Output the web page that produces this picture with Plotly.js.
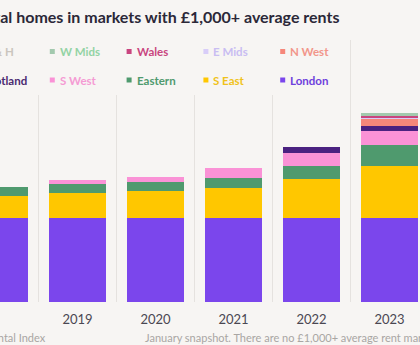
<!DOCTYPE html>
<html>
<head>
<meta charset="utf-8">
<script src="https://cdn.plot.ly/plotly-3.0.1.min.js"></script>
<style>
  html, body { margin: 0; padding: 0; background: #f7f5f3; overflow: hidden; }
  #chart { width: 420px; height: 345px; }
</style>
</head>
<body>
<div id="chart"></div>
<script>
// ---- data (units = relative bar heights) ----
const years = ['2018', '2019', '2020', '2021', '2022', '2023'];

// stacking order, bottom to top
const seriesNames = ['London', 'S East', 'Eastern', 'S West', 'Scotland', 'N West', 'E Mids', 'Wales', 'W Mids', 'Y & H'];

const london   = [83.7, 83.7, 83.7, 83.7, 83.7, 83.7];
const sEast    = [22.6, 25.0, 27.6, 30.6, 39.3, 52.3];
const eastern  = [8.4, 9.0, 9.0, 9.7, 13.3, 21.0];
const sWest    = [0, 4.0, 4.4, 9.7, 12.4, 13.8];
const scotland = [0, 0, 0, 0, 6.0, 5.7];
const nWest    = [0, 0, 0, 0, 0, 7.0];
const eMids    = [0, 0, 0, 0, 0, 0.5];
const wales    = [0, 0, 0, 0, 0, 2.5];
const wMids    = [0, 0, 0, 0, 0, 2.8];
const yAndH    = [0, 0, 0, 0, 0, 0];

const seriesValues = [london, sEast, eastern, sWest, scotland, nWest, eMids, wales, wMids, yAndH];

const title = 'Number of rental homes in markets with £1,000+ average rents';
const sourceNote = 'Source: Zoopla Rental Index';
const footNote = 'January snapshot. There are no £1,000+ average rent markets in the North East';

// ---- styles ----
const fillColors = {
  'London': '#7b46ec', 'S East': '#ffc700', 'Eastern': '#4f9a6e', 'S West': '#fa92d6',
  'Scotland': '#4a2180', 'N West': '#f6877a', 'E Mids': '#d8cdf8', 'Wales': '#c9457f',
  'W Mids': '#a3c9ae', 'Y & H': '#d9d3cc'
};
const textColors = {
  'London': '#6e40dc', 'S East': '#f0c21a', 'Eastern': '#4f9a6e', 'S West': '#f59bd3',
  'Scotland': '#4a2b70', 'N West': '#f2968a', 'E Mids': '#c9bdf2', 'Wales': '#c9457f',
  'W Mids': '#93d3a4', 'Y & H': '#cbc5be'
};
const BG = '#f7f5f3';
const FONT = 'Lato, "Noto Sans", sans-serif';

const W = 420, H = 345, M = {l: 0, r: 0, t: 40, b: 43};
const plotH = H - M.t - M.b;
const px2x = p => (p - M.l) / (W - M.l - M.r);
const px2y = p => (H - M.b - p) / plotH;

const traces = seriesNames.map((name, i) => ({
  type: 'bar',
  name: name,
  x: years,
  y: seriesValues[i],
  marker: {color: fillColors[name], line: {width: 0}},
  hoverinfo: 'skip',
  showlegend: false
}));

// legend grid: reading order is the reverse of the stacking order
const legendOrder = seriesNames.slice().reverse();
const nCols = 5, colStep = 76.8, col0 = -27, rowY = [51.5, 80];
const shapes = [{
  type: 'rect', xref: 'paper', yref: 'paper', layer: 'above',
  x0: -0.1, x1: px2x(345), y0: px2y(95), y1: 1,
  fillcolor: BG, line: {width: 0}
}];
const annotations = [];
legendOrder.forEach((name, k) => {
  const c = k % nCols, r = Math.floor(k / nCols);
  const sx = col0 + c * colStep, sy = rowY[r];
  shapes.push({
    type: 'rect', xref: 'paper', yref: 'paper', layer: 'above',
    x0: px2x(sx), x1: px2x(sx + 5), y0: px2y(sy + 2.5), y1: px2y(sy - 2.5),
    fillcolor: fillColors[name], line: {width: 0}
  });
  annotations.push({
    xref: 'paper', yref: 'paper', x: px2x(sx + 8), y: px2y(sy),
    xanchor: 'left', yanchor: 'middle', showarrow: false,
    text: name, font: {family: FONT, size: 11.5, color: textColors[name], weight: 700}
  });
});

annotations.push({
  xref: 'paper', yref: 'paper', x: px2x(342), y: px2y(16),
  xanchor: 'right', yanchor: 'middle', showarrow: false,
  text: title, font: {family: FONT, size: 16, color: '#2b2838', weight: 700}
});
annotations.push({
  xref: 'paper', yref: 'paper', x: px2x(48), y: px2y(337),
  xanchor: 'right', yanchor: 'middle', showarrow: false,
  text: sourceNote, font: {family: FONT, size: 11, color: '#a9a6a3'}
});
annotations.push({
  xref: 'paper', yref: 'paper', x: px2x(143), y: px2y(337),
  xanchor: 'left', yanchor: 'middle', showarrow: false,
  text: footNote, font: {family: FONT, size: 11, color: '#a9a6a3'}
});

const r0 = 1 - 77.5 / 78;
const layout = {
  width: W, height: H,
  margin: M,
  paper_bgcolor: BG, plot_bgcolor: BG,
  barmode: 'stack', bargap: 0.28,
  showlegend: false,
  hovermode: false,
  font: {family: FONT, color: '#4a4752'},
  xaxis: {
    type: 'category', range: [r0, r0 + (W - M.l - M.r) / 78],
    tickson: 'boundaries', showgrid: true, gridcolor: '#e5e2df', gridwidth: 1,
    ticks: '', showline: false, zeroline: false, ticklabelstandoff: 8,
    tickfont: {family: FONT, size: 13, color: '#4a4752'},
    fixedrange: true
  },
  yaxis: {
    range: [0, plotH], showgrid: false, zeroline: false, showline: false,
    showticklabels: false, ticks: '', fixedrange: true
  },
  shapes: shapes,
  annotations: annotations
};

Plotly.newPlot('chart', traces, layout, {displayModeBar: false, staticPlot: true});
</script>
</body>
</html>
